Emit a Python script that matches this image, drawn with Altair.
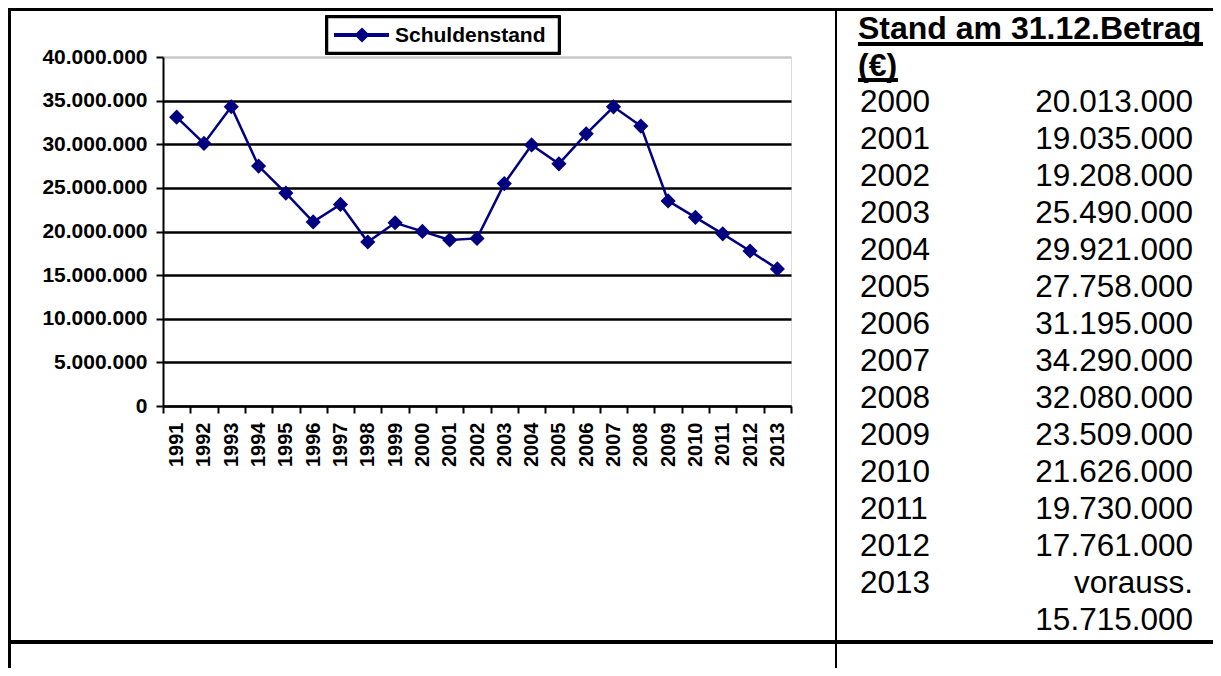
import altair as alt
import pandas as pd

# ---- data ----
years = list(range(1991, 2014))
schuldenstand = [33100000, 30100000, 34300000, 27500000, 24400000, 21100000,
                 23100000, 18800000, 21000000, 20013000, 19035000, 19208000,
                 25490000, 29921000, 27758000, 31195000, 34290000, 32080000,
                 23509000, 21626000, 19730000, 17761000, 15715000]
y_ticks = [0, 5000000, 10000000, 15000000, 20000000, 25000000, 30000000, 35000000, 40000000]
series_name = "Schuldenstand"

table_header = ["Stand am 31.12.Betrag", "(€)"]
table_years = ["2000", "2001", "2002", "2003", "2004", "2005", "2006",
               "2007", "2008", "2009", "2010", "2011", "2012", "2013"]
table_amounts = ["20.013.000", "19.035.000", "19.208.000", "25.490.000",
                 "29.921.000", "27.758.000", "31.195.000", "34.290.000",
                 "32.080.000", "23.509.000", "21.626.000", "19.730.000",
                 "17.761.000", "15.715.000"]
table_note = "vorauss."

FONT = "Liberation Sans"
NAVY = "#000080"

df = pd.DataFrame({"Jahr": years, "Wert": schuldenstand})

# table rows
head_df = pd.DataFrame({"row": [0, 1], "txt": table_header})
left_rows, left_txt, right_rows, right_txt = [], [], [], []
for i, (yr, amt) in enumerate(zip(table_years, table_amounts)):
    r = i + 2
    left_rows.append(r)
    left_txt.append(yr)
    if i == len(table_years) - 1:
        right_rows += [r, r + 1]
        right_txt += [table_note, amt]
    else:
        right_rows.append(r)
        right_txt.append(amt)
left_df = pd.DataFrame({"row": left_rows, "txt": left_txt})
right_df = pd.DataFrame({"row": right_rows, "txt": right_txt})

W, H = 628, 349
PAD = {"left": 155, "top": 49, "right": 422, "bottom": 262}
RIGHT_EDGE = W + PAD["right"]
BOTTOM_EDGE = H + PAD["bottom"]

x_enc = alt.X("Jahr:O", scale=alt.Scale(type="band", paddingInner=0, paddingOuter=0),
              axis=alt.Axis(title=None, labelAngle=270, tickBand="extent", labelFont=FONT,
                            labelFontSize=20, labelFontWeight="bold", labelColor="black",
                            labelPadding=9, tickSize=7, tickWidth=2, tickColor="black",
                            domainColor="black", domainWidth=2, grid=False))
y_scale = alt.Scale(domain=[0, 40000000], nice=False)

line = alt.Chart(df).mark_line(color=NAVY, strokeWidth=2.5).encode(
    x=x_enc,
    y=alt.Y("Wert:Q", scale=y_scale,
            axis=alt.Axis(title=None, values=y_ticks, format=",d", labelFont=FONT,
                          labelFontSize=21, labelFontWeight="bold", labelColor="black",
                          labelPadding=9, tickSize=7, tickWidth=2, tickColor="black",
                          domainColor="black", domainWidth=2, grid=True, gridWidth=2.5,
                          gridColor={"condition": {"test": "datum.value == 40000000", "value": "#c8c8c8"},
                                     "value": "black"}))
)
points = alt.Chart(df).mark_point(shape="diamond", filled=True, size=230, color=NAVY, opacity=1).encode(
    x=alt.X("Jahr:O"),
    y=alt.Y("Wert:Q", scale=y_scale),
)
main = alt.layer(line, points)

row_y = alt.Y("row:Q", scale=alt.Scale(domain=[0, 16], range=[-28, 564], nice=False, zero=False), axis=None)

head_text = alt.Chart(head_df).mark_text(align="left", baseline="middle", font=FONT, fontSize=32,
                                         fontWeight="bold", color="black").encode(
    x=alt.value(695), y=row_y, text="txt:N")
left_text = alt.Chart(left_df).mark_text(align="left", baseline="middle", font=FONT, fontSize=31.5,
                                         color="black").encode(
    x=alt.value(697), y=row_y, text="txt:N")
right_text = alt.Chart(right_df).mark_text(align="right", baseline="middle", font=FONT, fontSize=31.5,
                                           color="black").encode(
    x=alt.value(1030), y=row_y, text="txt:N")
table = alt.layer(head_text, left_text, right_text)


def rule(x1, x2, y1, y2, w=2.0, color="black"):
    return alt.Chart(df).mark_rule(color=color, strokeWidth=w).encode(
        x=alt.value(x1), x2=alt.value(x2), y=alt.value(y1), y2=alt.value(y2))


frame = alt.layer(
    rule(-155, RIGHT_EDGE, -48, -48, 2.5),          # top border
    rule(-154, -154, -49, BOTTOM_EDGE, 2.5),        # left border
    rule(673, 673, -49, BOTTOM_EDGE, 2.0),          # column divider
    rule(-155, RIGHT_EDGE, 585, 585, 2.5),          # row divider
    rule(695, 1040, -13, -13, 2.5),                 # header underline
    rule(695, 735, 23, 23, 2.5),                    # (€) underline
)

legend_box = alt.Chart(df).mark_rect(fill="white", stroke="black", strokeWidth=2.5).encode(
    x=alt.value(164), x2=alt.value(396), y=alt.value(-40), y2=alt.value(-4))
legend_line = alt.Chart(df).mark_rule(color=NAVY, strokeWidth=2.5).encode(
    x=alt.value(171), x2=alt.value(226), y=alt.value(-22), y2=alt.value(-22))
legend_pt = alt.Chart(pd.DataFrame({"s": [series_name]})).mark_point(
    shape="diamond", filled=True, size=230, color=NAVY, opacity=1).encode(
    x=alt.value(199), y=alt.value(-22))
legend_txt = alt.Chart(pd.DataFrame({"s": [series_name]})).mark_text(
    align="left", baseline="middle", font=FONT, fontSize=21, fontWeight="bold", color="black").encode(
    x=alt.value(232), y=alt.value(-21), text="s:N")
legend = alt.layer(legend_box, legend_line, legend_pt, legend_txt)

chart = alt.layer(main, table, frame, legend).resolve_scale(y="independent").properties(
    width=W, height=H,
    autosize=alt.AutoSizeParams(type="none"),
    padding=PAD,
    background="white",
).configure_view(stroke=None).configure(
    locale={"number": {"decimal": ",", "thousands": ".", "grouping": [3], "currency": ["", " €"]}}
)

chart.save("out.html", embed_options={"renderer": "svg", "actions": False})
